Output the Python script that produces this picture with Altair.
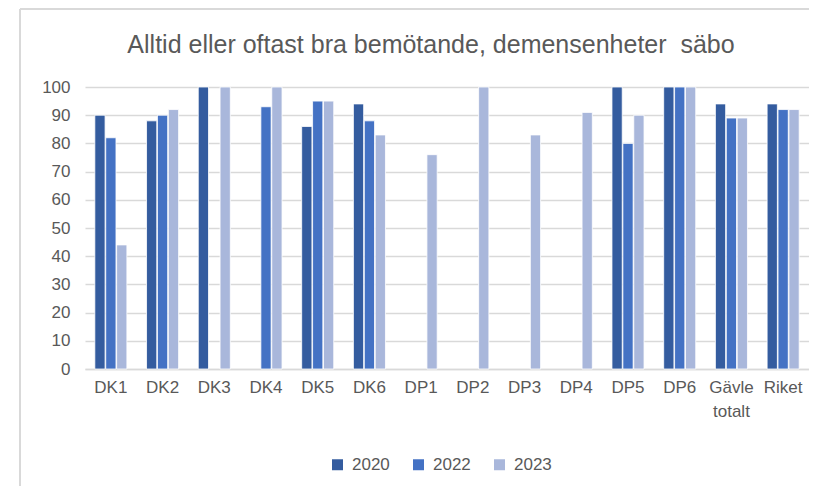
import altair as alt
import pandas as pd

categories = ["DK1", "DK2", "DK3", "DK4", "DK5", "DK6", "DP1", "DP2", "DP3", "DP4",
              "DP5", "DP6", "Gävle totalt", "Riket"]
years = ["2020", "2022", "2023"]
v2020 = [90, 88, 100, None, 86, 94, None, None, None, None, 100, 100, 94, 94]
v2022 = [82, 90, None, 93, 95, 88, None, None, None, None, 80, 100, 89, 92]
v2023 = [44, 92, 100, 100, 95, 83, 76, 100, 83, 91, 90, 100, 89, 92]
colors = ["#345C9F", "#4472C4", "#A9B7DB"]
title_text = ["Alltid eller oftast bra bemötande, demensenheter\u00a0 säbo"]

rows = []
for yr, vals in zip(years, [v2020, v2022, v2023]):
    for c, v in zip(categories, vals):
        if v is not None:
            rows.append({"cat": c, "year": yr, "value": v})
df = pd.DataFrame(rows)

FONT = "Liberation Sans"
TXT = "#595959"
GRID = "#D9D9D9"
W, H = 724, 282

bars = alt.Chart(df).mark_bar(stroke="white", strokeWidth=0.8).encode(
    x=alt.X("cat:N", sort=categories, title=None,
            scale=alt.Scale(paddingInner=0.38, paddingOuter=0.19),
            axis=alt.Axis(labelAngle=0, labelFontSize=17, labelColor=TXT, labelFont=FONT,
                          labelPadding=10, ticks=False, domainColor=GRID, domainWidth=1.5,
                          labelExpr="split(datum.label, ' ')", labelLineHeight=24)),
    xOffset=alt.XOffset("year:N", scale=alt.Scale(domain=years, paddingInner=0.06)),
    y=alt.Y("value:Q", title=None,
            scale=alt.Scale(domain=[0, 100], nice=False),
            axis=alt.Axis(values=list(range(0, 101, 10)), labelFontSize=17, labelColor=TXT,
                          labelFont=FONT, labelPadding=15, ticks=False, domain=False,
                          gridColor=GRID, gridWidth=1.5)),
    color=alt.Color("year:N", scale=alt.Scale(domain=years, range=colors), title=None,
                    legend=alt.Legend(orient="none", legendX=244, legendY=369,
                                      direction="horizontal", symbolType="square",
                                      symbolSize=121, symbolStrokeWidth=0,
                                      labelFontSize=17, labelColor=TXT, labelFont=FONT,
                                      labelOffset=6, columnPadding=20, padding=0)),
)

title_df = pd.DataFrame({"t": title_text})
title = alt.Chart(title_df).mark_text(fontSize=25, font=FONT, color=TXT, align="center",
                                      baseline="middle").encode(
    text="t:N", x=alt.value(346), y=alt.value(-42))

one = pd.DataFrame({"a": [0]})
border_top = alt.Chart(one).mark_rule(color=GRID, strokeWidth=2).encode(
    x=alt.value(-65), x2=alt.value(W), y=alt.value(-78), y2=alt.value(-78))
border_left = alt.Chart(one).mark_rule(color=GRID, strokeWidth=2).encode(
    x=alt.value(-65), x2=alt.value(-65), y=alt.value(-78), y2=alt.value(H + 117))

chart = alt.layer(bars, title, border_top, border_left).properties(
    width=W, height=H,
    autosize=alt.AutoSizeParams(type="none"),
    padding={"left": 77, "top": 79, "right": 0, "bottom": 117},
    background="white",
).configure_view(stroke=None)

chart.save("out.html", embed_options={"renderer": "svg", "actions": False})
